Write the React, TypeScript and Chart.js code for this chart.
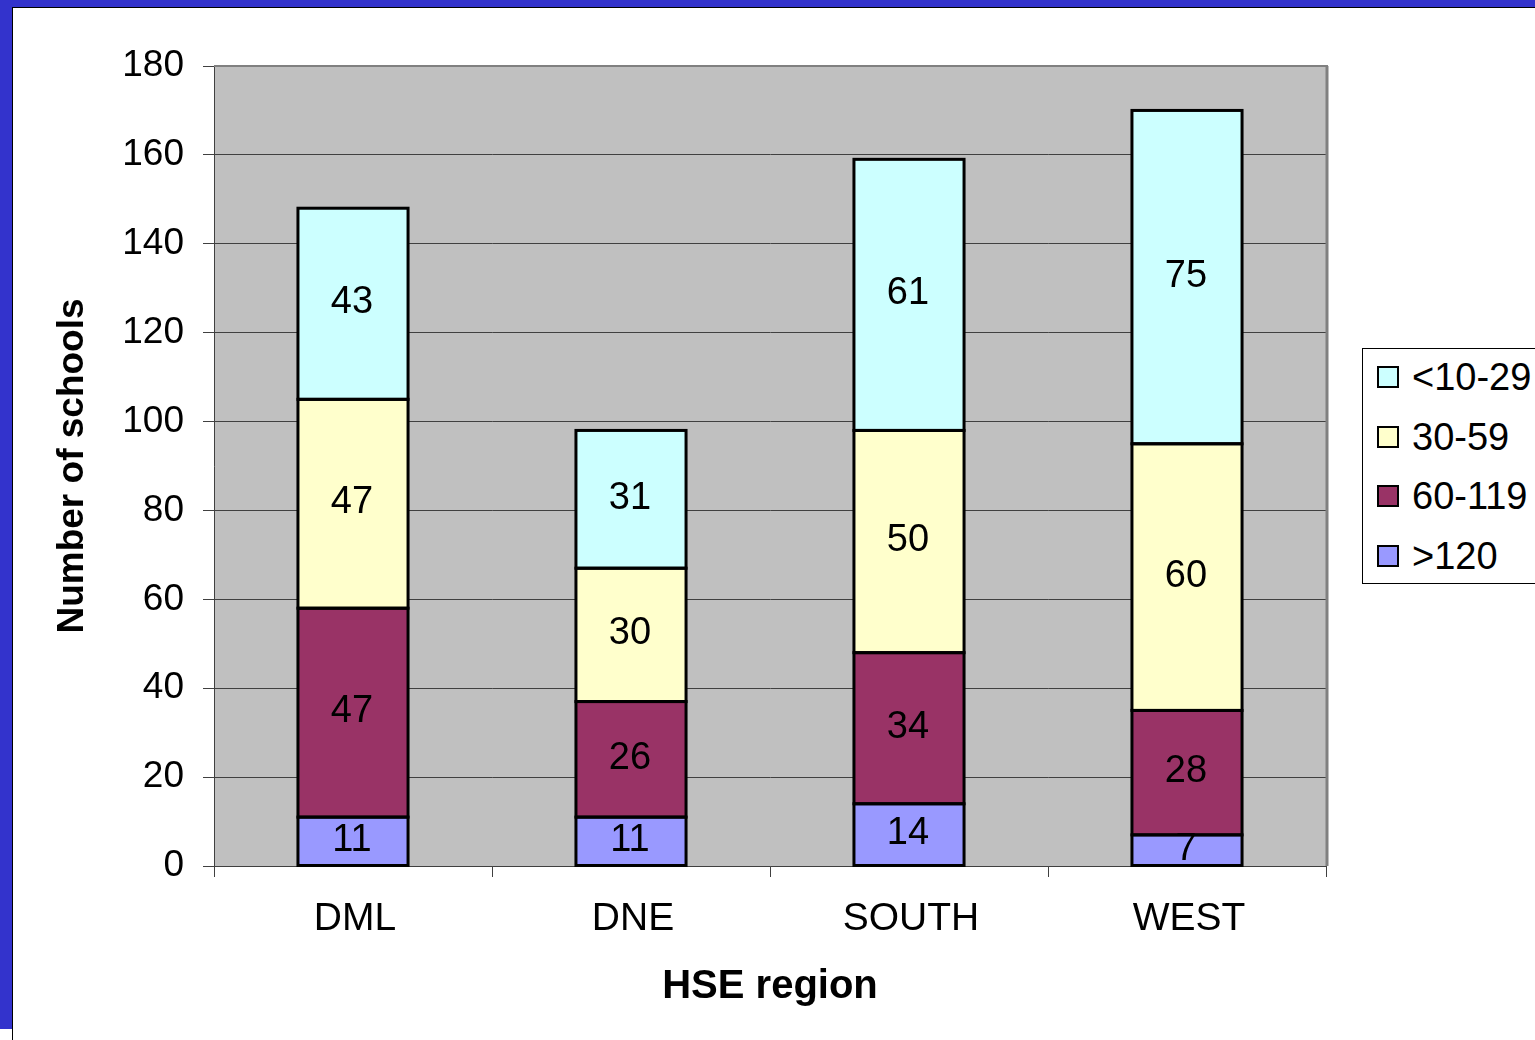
import React, { useEffect, useRef } from "react";
import { Chart, registerables } from "chart.js";

Chart.register(...registerables);

const categories = ["DML", "DNE", "SOUTH", "WEST"];
const seriesNames = [">120", "60-119", "30-59", "<10-29"];
const over120 = [11, 11, 14, 7];
const s60to119 = [47, 26, 34, 28];
const s30to59 = [47, 30, 50, 60];
const s10to29 = [43, 31, 61, 75];
const seriesColors = ["#9999FF", "#993366", "#FFFFCC", "#CCFFFF"];
const yTicks = { min: 0, max: 180, step: 20 };

const FONT = "'Liberation Sans', Arial, sans-serif";

const plotBg = {
  id: "plotBg",
  beforeDraw(chart: any) {
    const { ctx, chartArea } = chart;
    ctx.save();
    ctx.fillStyle = "#C0C0C0";
    ctx.fillRect(chartArea.left, chartArea.top, chartArea.right - chartArea.left, chartArea.bottom - chartArea.top);
    ctx.restore();
  },
  afterDraw(chart: any) {
    const { ctx, chartArea } = chart;
    ctx.save();
    ctx.strokeStyle = "#808080";
    ctx.lineWidth = 3;
    ctx.beginPath();
    ctx.moveTo(chartArea.right + 1, chartArea.bottom);
    ctx.lineTo(chartArea.right + 1, chartArea.top);
    ctx.stroke();
    ctx.lineWidth = 2;
    ctx.beginPath();
    ctx.moveTo(chartArea.left, chartArea.top);
    ctx.lineTo(chartArea.right + 2, chartArea.top);
    ctx.stroke();
    ctx.restore();
  },
};

// value labels first, then centred 3px outlines of every segment
const labelsAndOutlines = {
  id: "labelsAndOutlines",
  afterDatasetsDraw(chart: any) {
    const { ctx } = chart;
    ctx.save();
    ctx.font = `38px ${FONT}`;
    ctx.fillStyle = "#000";
    ctx.textAlign = "center";
    ctx.textBaseline = "middle";
    const bars: any[] = [];
    chart.data.datasets.forEach((ds: any, i: number) => {
      const meta = chart.getDatasetMeta(i);
      meta.data.forEach((bar: any, j: number) => {
        const v = ds.data[j];
        const p = bar.getProps(["x", "y", "base", "width"], true);
        bars.push(p);
        ctx.fillText(String(v), p.x - 1, (p.y + p.base) / 2 - 1);
      });
    });
    ctx.strokeStyle = "#000";
    ctx.lineWidth = 3;
    ctx.lineJoin = "miter";
    bars.forEach((p) => {
      ctx.strokeRect(p.x - p.width / 2, p.y, p.width, p.base - p.y);
    });
    ctx.restore();
  },
};

export default function App() {
  const ref = useRef<HTMLCanvasElement>(null);
  useEffect(() => {
    if (!ref.current) return;
    const allSeries = [over120, s60to119, s30to59, s10to29];
    const chart = new Chart(ref.current, {
      type: "bar",
      data: {
        labels: categories,
        datasets: allSeries.map((d, i) => ({
          label: seriesNames[i],
          data: d,
          backgroundColor: seriesColors[i],
          borderWidth: 0,
          inflateAmount: 0,
          barPercentage: 0.396,
          categoryPercentage: 1,
        })),
      },
      options: {
        animation: false,
        responsive: false,
        devicePixelRatio: 1,
        layout: { padding: { top: 66, right: 209, left: 0, bottom: 0 } },
        plugins: { legend: { display: false }, tooltip: { enabled: false } },
        scales: {
          x: {
            stacked: true,
            grid: { display: true, drawOnChartArea: false, drawTicks: true, tickLength: 11, color: "#404040", offset: true },
            border: { display: true, color: "#404040", width: 1 },
            ticks: { color: "#000", font: { family: FONT, size: 39 }, padding: 19, labelOffset: 2 },
            title: { display: true, text: "HSE region", color: "#000", font: { family: FONT, size: 40, weight: "bold" }, padding: { top: 0, bottom: 29 } },
            afterFit(scale: any) { scale.height = 174; },
          },
          y: {
            stacked: true,
            min: yTicks.min,
            max: yTicks.max,
            ticks: { stepSize: yTicks.step, color: "#000", font: { family: FONT, size: 37 }, padding: 19 },
            grid: { color: "#404040", tickLength: 11, lineWidth: 1 },
            border: { display: true, color: "#404040", width: 1 },
            title: { display: true, text: "Number of schools", color: "#000", font: { family: FONT, size: 37, weight: "bold" }, padding: { top: 51, bottom: 0 } },
            afterFit(scale: any) { scale.width = 214; },
          },
        },
      },
      plugins: [plotBg, labelsAndOutlines],
    });
    return () => chart.destroy();
  }, []);

  const legendItems = [3, 2, 1, 0];
  return (
    <div style={{ position: "fixed", left: 0, top: 0, width: 1535, height: 1040, overflow: "hidden", background: "#fff", fontFamily: FONT }}>
      <canvas ref={ref} width={1535} height={1040} style={{ position: "absolute", left: 0, top: 0, width: 1535, height: 1040 }} />
      <div style={{ position: "absolute", left: 0, top: 0, width: 12, height: 1029, background: "#3333CC" }} />
      <div style={{ position: "absolute", left: 0, top: 0, width: 1535, height: 7, background: "#3333CC" }} />
      <div style={{ position: "absolute", left: 12, top: 7, width: 1, height: 1033, background: "#000" }} />
      <div style={{ position: "absolute", left: 12, top: 7, width: 1523, height: 1, background: "#000" }} />
      <div style={{ position: "absolute", left: 1362, top: 348, width: 220, height: 236, border: "1px solid #000", background: "#fff", boxSizing: "border-box" }}>
        {legendItems.map((idx, k) => (
          <div key={idx} style={{ position: "absolute", left: 14, top: 8 + k * 59.5, height: 40, display: "flex", alignItems: "center", whiteSpace: "nowrap" }}>
            <div style={{ width: 18, height: 18, border: "2px solid #000", background: seriesColors[idx], marginRight: 13 }} />
            <span style={{ fontSize: 38, color: "#000", lineHeight: "40px" }}>{seriesNames[idx]}</span>
          </div>
        ))}
      </div>
    </div>
  );
}
